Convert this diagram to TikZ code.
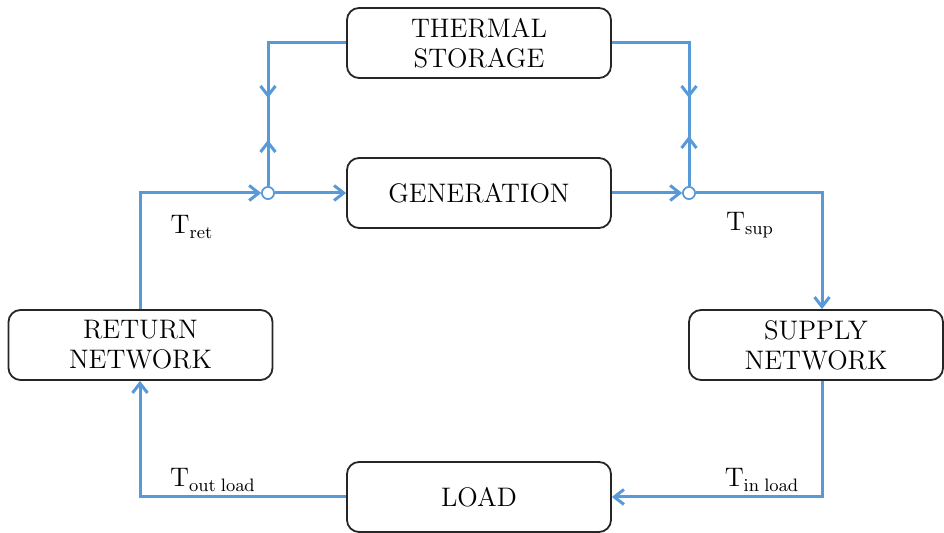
\documentclass[tikz,border=0pt]{standalone}
\usetikzlibrary{arrows.meta}
\definecolor{flowblue}{RGB}{88,154,216}
\begin{document}
\begin{tikzpicture}[x=0.5pt,y=-0.5pt,
  box/.style={draw=black!85,line width=0.9pt,rounded corners=6pt,minimum width=132pt,minimum height=35pt,align=center,font=\fontsize{13.4}{15}\selectfont,inner sep=0pt},
  flow/.style={draw=flowblue,line width=1.5pt,-{Straight Barb[length=4.8pt,width=7.5pt,line width=1.5pt]}},
  plain/.style={draw=flowblue,line width=1.5pt},
  junc/.style={circle,draw=flowblue,fill=white,line width=0.8pt,minimum size=6pt,inner sep=0pt},
  lab/.style={font=\fontsize{13.4}{15}\selectfont}]
\useasboundingbox (0,0) rectangle (944,533);
\node[box] (ts) at (479,43) {THERMAL\\STORAGE};
\node[box] (gen) at (479,193) {GENERATION};
\node[box] (ret) at (140.5,345) {RETURN\\NETWORK};
\node[box,minimum width=127pt] (sup) at (816,345) {SUPPLY\\NETWORK};
\node[box] (load) at (479,497) {LOAD};
\node[junc] (jl) at (268,193) {};
\node[junc] (jr) at (689,193) {};
\coordinate (cl) at (268,43);
\coordinate (cr) at (689,43);
\coordinate (dl) at (268,98);
\coordinate (ul) at (268,140);
\coordinate (dr) at (689,98);
\coordinate (ur) at (689,136);
\coordinate (rt) at (140,193);
\coordinate (st) at (822,193);
\coordinate (sb) at (822,497);
\coordinate (rb) at (140,497);
% storage branches
\draw[plain] (ts.west) -- (cl) -- (jl.north);
\draw[flow] (cl) -- (dl);
\draw[flow] (jl.north) -- (ul);
\draw[plain] (ts.east) -- (cr) -- (jr.north);
\draw[flow] (cr) -- (dr);
\draw[flow] (jr.north) -- (ur);
% main loop
\draw[flow] (ret.north -| rt) -- (rt) -- (jl.west);
\draw[flow] (jl.east) -- (gen.west);
\draw[flow] (gen.east) -- (jr.west);
\draw[flow] (jr.east) -- (st) -- (st |- sup.north);
\draw[flow] (st |- sup.south) -- (sb) -- (load.east);
\draw[flow] (load.west) -- (rb) -- (rb |- ret.south);
\node[junc] at (jl) {};
\node[junc] at (jr) {};
% labels
\node[lab] (tret) at (192,227) {T$_{\mathrm{ret}}$};
\node[lab] (tsup) at (750,225) {T$_{\mathrm{sup}}$};
\node[lab] (tout) at (213,480) {T$_{\mathrm{out}\;\mathrm{load}}$};
\node[lab] (tin) at (762,480) {T$_{\mathrm{in}\;\mathrm{load}}$};
\end{tikzpicture}
\end{document}
